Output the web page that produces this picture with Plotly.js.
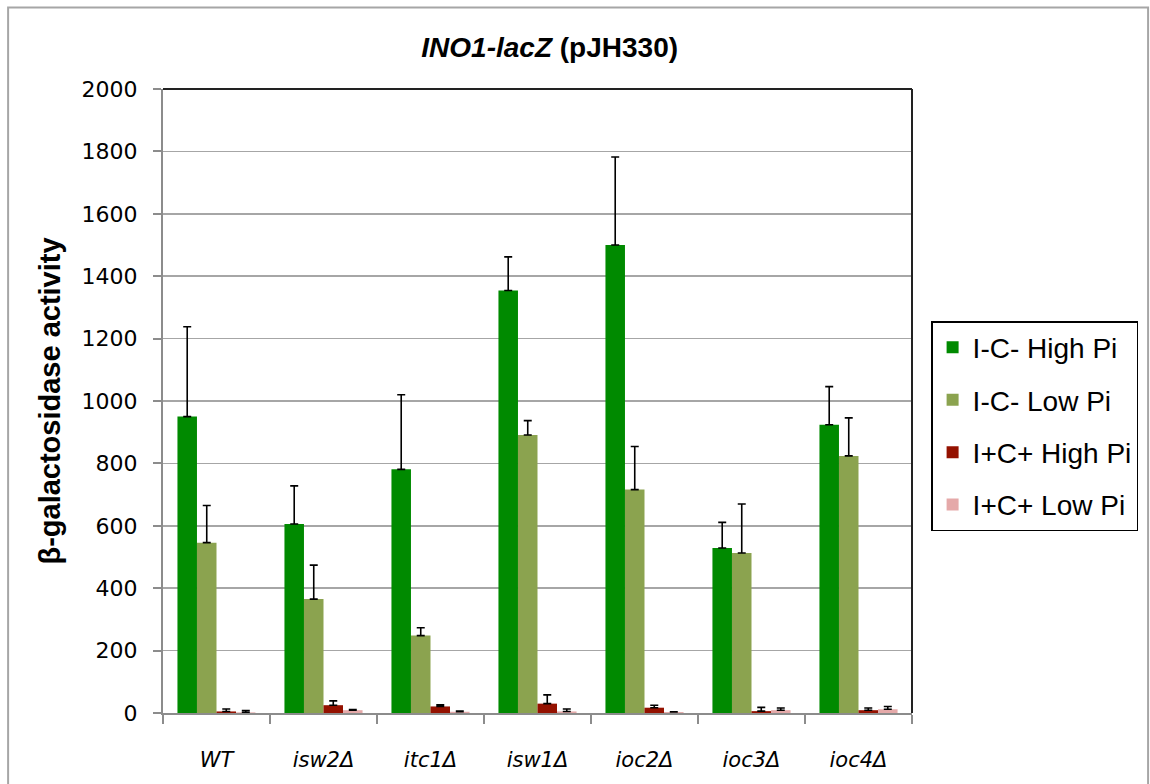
<!DOCTYPE html>
<html>
<head>
<meta charset="utf-8">
<script src="https://cdn.plot.ly/plotly-3.0.1.min.js"></script>
<style>
  html, body { margin: 0; padding: 0; background: #ffffff; }
  #chart { width: 1150px; height: 784px; }
</style>
</head>
<body>
<div id="chart"></div>
<script>
// Categories (strains)
var strains = ['WT', 'isw2Δ', 'itc1Δ', 'isw1Δ', 'ioc2Δ', 'ioc3Δ', 'ioc4Δ'];

// Series names
var seriesNames = ['I-C- High Pi', 'I-C- Low Pi', 'I+C+ High Pi', 'I+C+ Low Pi'];

// Mean β-galactosidase activity
var icNegHighPi = [950, 606, 781, 1354, 1500, 529, 924];
var icNegLowPi  = [546, 365, 248, 891, 716, 513, 824];
var icPosHighPi = [5, 25, 21, 30, 17, 6, 9];
var icPosLowPi  = [2, 9, 4, 5, 3, 9, 12];

// Error bars (upper)
var icNegHighPiErr = [288, 122, 239, 108, 282, 82, 122];
var icNegLowPiErr  = [119, 109, 25, 46, 138, 157, 122];
var icPosHighPiErr = [8, 14, 5, 28, 8, 12, 7];
var icPosLowPiErr  = [6, 2, 2, 8, 1, 7, 9];

var colors = ['#008a00', '#8ba34f', '#941100', '#e5a9a9'];

var values = [icNegHighPi, icNegLowPi, icPosHighPi, icPosLowPi];
var errs = [icNegHighPiErr, icNegLowPiErr, icPosHighPiErr, icPosLowPiErr];

var zeros = strains.map(function () { return 0; });

var traces = seriesNames.map(function (name, i) {
  return {
    type: 'bar',
    name: name,
    legendgroup: 'g' + i,
    x: strains,
    y: values[i],
    marker: { color: colors[i], line: { width: 0 } },
    error_y: {
      type: 'data',
      symmetric: false,
      array: errs[i],
      arrayminus: zeros,
      color: '#000000',
      thickness: 1.6,
      width: 4
    },
    hoverinfo: 'x+y+name'
  };
});

var layout = {
  width: 1150,
  height: 784,
  paper_bgcolor: '#ffffff',
  plot_bgcolor: '#ffffff',
  margin: { l: 163, r: 235, t: 89, b: 71, pad: 0 },
  barmode: 'group',
  bargap: 0.27,
  bargroupgap: 0,
  title: {
    text: '<b><i>INO1-lacZ</i> (pJH330)</b>',
    font: { family: 'Liberation Sans, Arial, sans-serif', size: 28, color: '#000000' },
    x: 0.478,
    xanchor: 'center',
    y: 0.94,
    yanchor: 'middle'
  },
  xaxis: {
    type: 'category',
    tickson: 'boundaries',
    ticks: 'outside',
    ticklen: 9,
    tickwidth: 2,
    tickcolor: '#8c8c8c',
    showline: true,
    linecolor: '#8c8c8c',
    linewidth: 2,
    showgrid: false,
    ticklabelstandoff: 27,
    tickfont: { family: 'DejaVu Sans, Verdana, sans-serif', size: 21, color: '#000000', style: 'italic' },
    fixedrange: true
  },
  yaxis: {
    range: [0, 2000],
    dtick: 200,
    tick0: 0,
    ticks: 'outside',
    ticklen: 8,
    tickwidth: 2,
    tickcolor: '#8c8c8c',
    showline: true,
    linecolor: '#8c8c8c',
    linewidth: 2,
    showgrid: true,
    gridcolor: '#a6a6a6',
    gridwidth: 1.5,
    zeroline: false,
    ticklabelstandoff: 11,
    tickfont: { family: 'DejaVu Sans, Verdana, sans-serif', size: 22, color: '#000000' },
    title: {
      text: '<b>β-galactosidase activity</b>',
      font: { family: 'Liberation Sans, Arial, sans-serif', size: 29, color: '#000000' },
      standoff: 12
    },
    fixedrange: true
  },
  legend: {
    x: 1.0255,
    xanchor: 'left',
    y: 0.628,
    yanchor: 'top',
    bordercolor: '#000000',
    borderwidth: 1.5,
    bgcolor: '#ffffff',
    font: { family: 'Liberation Sans, Arial, sans-serif', size: 28, color: '#000000' },
    tracegroupgap: 13,
    traceorder: 'grouped'
  },
  shapes: [
    { type: 'rect', xref: 'paper', yref: 'paper', x0: -0.2068, x1: 1.3152, y0: -0.117, y1: 1.1306,
      line: { color: '#a6a6a6', width: 2 }, fillcolor: 'rgba(0,0,0,0)', layer: 'below' },
    { type: 'line', xref: 'paper', yref: 'paper', x0: 0, x1: 1, y0: 1, y1: 1,
      line: { color: '#222222', width: 2 } },
    { type: 'line', xref: 'paper', yref: 'paper', x0: 1, x1: 1, y0: 0, y1: 1,
      line: { color: '#222222', width: 2 } }
  ]
};

Plotly.newPlot('chart', traces, layout, { staticPlot: true, displayModeBar: false });
</script>
</body>
</html>
